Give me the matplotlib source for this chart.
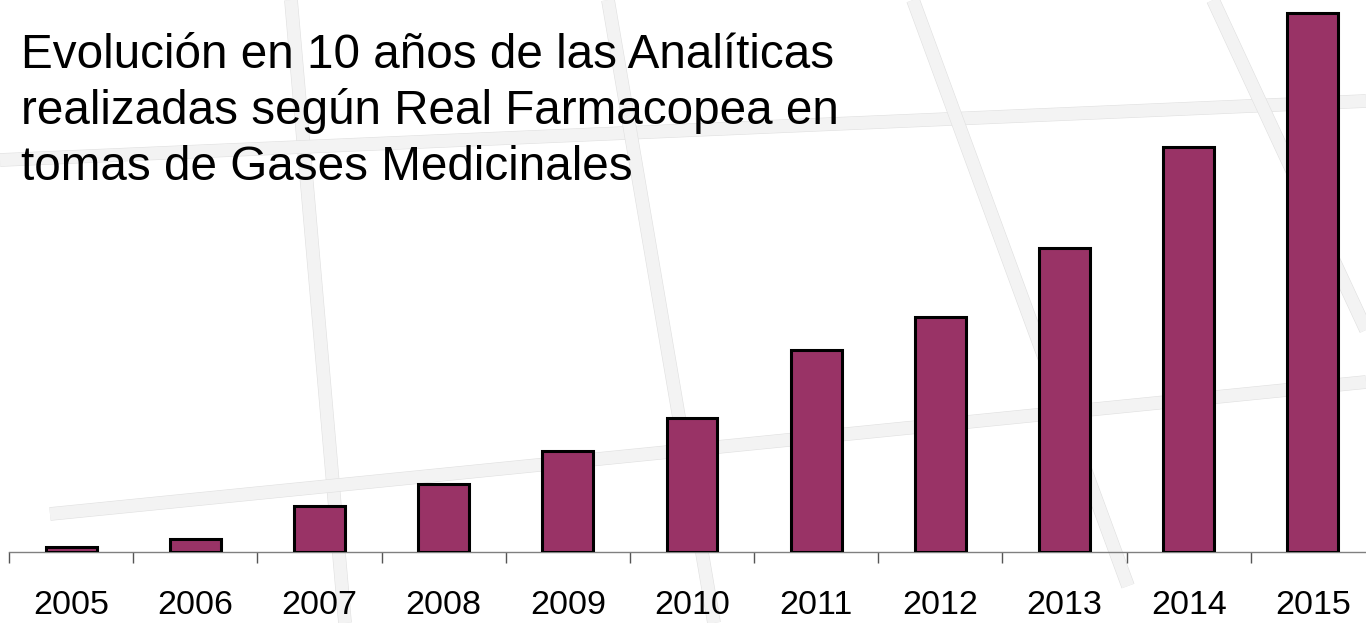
import matplotlib
matplotlib.use("Agg")
import matplotlib.pyplot as plt
import matplotlib.patheffects as pe
import numpy as np
from matplotlib.lines import Line2D

plt.rcParams['font.family'] = ['Liberation Sans', 'DejaVu Sans']

years = ['2005', '2006', '2007', '2008', '2009', '2010',
         '2011', '2012', '2013', '2014', '2015']
# relative number of analyses (no scale shown on the original chart)
analiticas = [5, 13, 46, 68, 101, 134, 202, 235, 304, 405, 539]

title = ("Evolución en 10 años de las Analíticas\n"
         "realizadas según Real Farmacopea en\n"
         "tomas de Gases Medicinales")

W, H = 1366, 623
fig = plt.figure(figsize=(W / 100, H / 100), dpi=100)

# decorative light-grey strokes in the background (pixel coords)
deco = [((291, 0), (345, 623)),
        ((0, 160), (1366, 101)),
        ((913, 0), (1128, 586)),
        ((1213, 0), (1366, 330)),
        ((608, 0), (714, 623)),
        ((50, 514), (1366, 382))]
for (x0, y0), (x1, y1) in deco:
    ln = Line2D([x0 / W, x1 / W], [1 - y0 / H, 1 - y1 / H],
                transform=fig.transFigure, color='#f3f3f3', lw=9.0,
                solid_capstyle='butt', zorder=0)
    ln.set_path_effects([pe.Stroke(linewidth=9.8, foreground='#e0e0e0'), pe.Normal()])
    fig.add_artist(ln)

ax = fig.add_axes([9 / W, (H - 552) / H, 1366 / W, 552 / H])
ax.set_zorder(2)
ax.patch.set_visible(False)

x = np.arange(len(years))
ax.bar(x, analiticas, width=0.41, color='#993366', edgecolor='black', linewidth=2.2, zorder=3)

ax.set_xlim(-0.5, len(years) - 0.5)
ax.set_ylim(0, 552)
for s in ['top', 'right', 'left']:
    ax.spines[s].set_visible(False)
ax.spines['bottom'].set_color('#808080')
ax.spines['bottom'].set_linewidth(1.0)
ax.set_yticks([])

ax.set_xticks(np.arange(-0.5, len(years), 1.0))
ax.set_xticklabels([])
ax.tick_params(axis='x', which='major', length=8, width=1.0, color='#555555', direction='out')
ax.set_xticks(x, minor=True)
ax.set_xticklabels(years, minor=True, fontsize=24.5)
ax.tick_params(axis='x', which='minor', length=0, pad=27)

fig.text(21 / W, 1 - 33 / H, title, fontsize=34.3, va='top', ha='left',
         linespacing=1.29, color='black', zorder=5)

fig.savefig('out.png', dpi=100, facecolor='white')
